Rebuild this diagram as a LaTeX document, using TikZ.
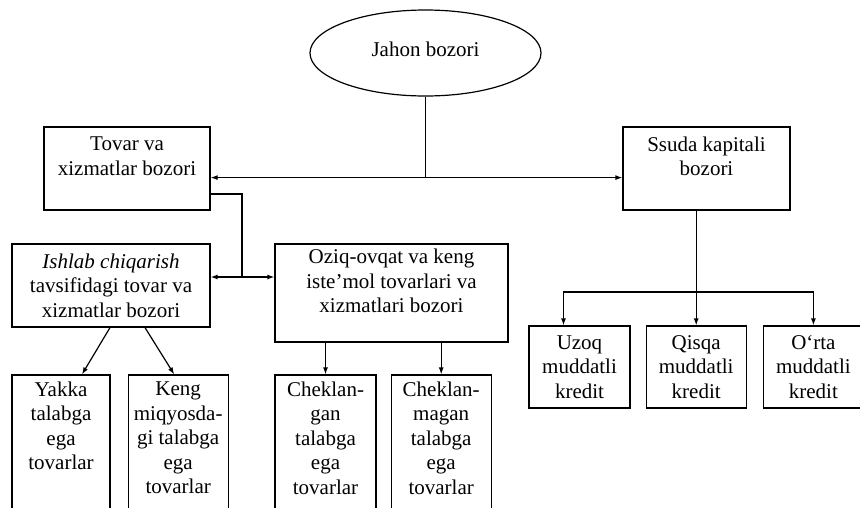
\documentclass[tikz,border=0pt]{standalone}
\usepackage{fontspec}
\setmainfont{Liberation Serif}
\usetikzlibrary{positioning,shapes.geometric,arrows.meta}

\begin{document}
\begin{tikzpicture}[
    x=1pt,y=-1pt,
    line width=1.2pt,
    box/.style={rectangle,draw,align=center,inner sep=0pt,font=\fontsize{21}{24.5}\selectfont},
    topbox/.style={box,minimum width=166pt,minimum height=83pt},
    midbox/.style={box,minimum height=83pt},
    leafbox/.style={box,minimum height=150pt},
    creditbox/.style={box,minimum height=82pt},
    arrow/.style={-{Latex[length=7pt,width=5pt]}},
]
\useasboundingbox (0,0) rectangle (860,507);

% ===== Top =====
\node[ellipse,draw,minimum width=231pt,minimum height=86pt,inner sep=0pt,font=\fontsize{21}{24.5}\selectfont] (jahon) at (425.5,53) {\raisebox{8pt}{Jahon bozori}};

\node[topbox] (tovar) at (127,168.5) {Tovar va\\xizmatlar bozori\\~};
\node[topbox,minimum width=167pt] (ssuda) at (706.5,168.5) {Ssuda kapitali\\bozori\\~};

\coordinate (hub) at ([yshift=-81pt]jahon.south);
\draw (jahon.south) -- (hub);
\draw[arrow] (hub) -- (tovar.east |- hub);
\draw[arrow] (hub) -- (ssuda.west |- hub);

% ===== Tovar va xizmatlar bozori =====
\node[midbox,minimum width=198pt] (ishlab) at (111,285.5) {\textit{Ishlab chiqarish}\\tavsifidagi tovar va\\xizmatlar bozori};
\node[box,minimum width=233pt,minimum height=98pt] (oziq) at (391.5,293) {Oziq-ovqat va keng\\iste’mol tovarlari va\\xizmatlari bozori\\~};

\coordinate (tk) at ([yshift=-25.5pt]tovar.east);
\coordinate (split) at (242,277);
\draw (tk) -| (split);
\draw[arrow] (split) -- (ishlab.east |- split);
\draw[arrow] (split) -- (oziq.west |- split);

% ===== Bottom row =====
\node[leafbox,minimum width=98pt] (yakka) at (61,450) {Yakka\\talabga\\ega\\tovarlar\\~\\~};
\node[leafbox,minimum width=100pt,right=17pt of yakka] (keng) {Keng\\miqyosda-\\gi talabga\\ega\\tovarlar\\~};
\node[leafbox,minimum width=101pt] (cheklangan) at (325.5,450) {Cheklan-\\gan\\talabga\\ega\\tovarlar\\~};
\node[leafbox,minimum width=100pt,right=14pt of cheklangan] (cheklanmagan) {Cheklan-\\magan\\talabga\\ega\\tovarlar\\~};

\draw[arrow] ([xshift=-1pt]ishlab.south) -- ([xshift=21pt]yakka.north);
\draw[arrow] ([xshift=34pt]ishlab.south) -- ([xshift=-4pt]keng.north);
\draw[arrow] (oziq.south -| cheklangan.north) -- (cheklangan.north);
\draw[arrow] (oziq.south -| cheklanmagan.north) -- (cheklanmagan.north);

% ===== Kreditlar =====
\node[creditbox,minimum width=101pt] (uzoq) at (579.5,367) {Uzoq\\muddatli\\kredit};
\node[creditbox,minimum width=100pt,right=15pt of uzoq] (qisqa) {Qisqa\\muddatli\\kredit};
\node[creditbox,minimum width=100pt,right=16pt of qisqa] (orta) {O‘rta\\muddatli\\kredit};

\coordinate (kbar) at (0,292);
\draw[arrow] (ssuda.south -| qisqa.north) -- (qisqa.north);
\draw[arrow] (kbar -| qisqa.north) -| ([xshift=-16pt]uzoq.north);
\draw[arrow] (kbar -| qisqa.north) -| (orta.north);

\end{tikzpicture}
\end{document}
